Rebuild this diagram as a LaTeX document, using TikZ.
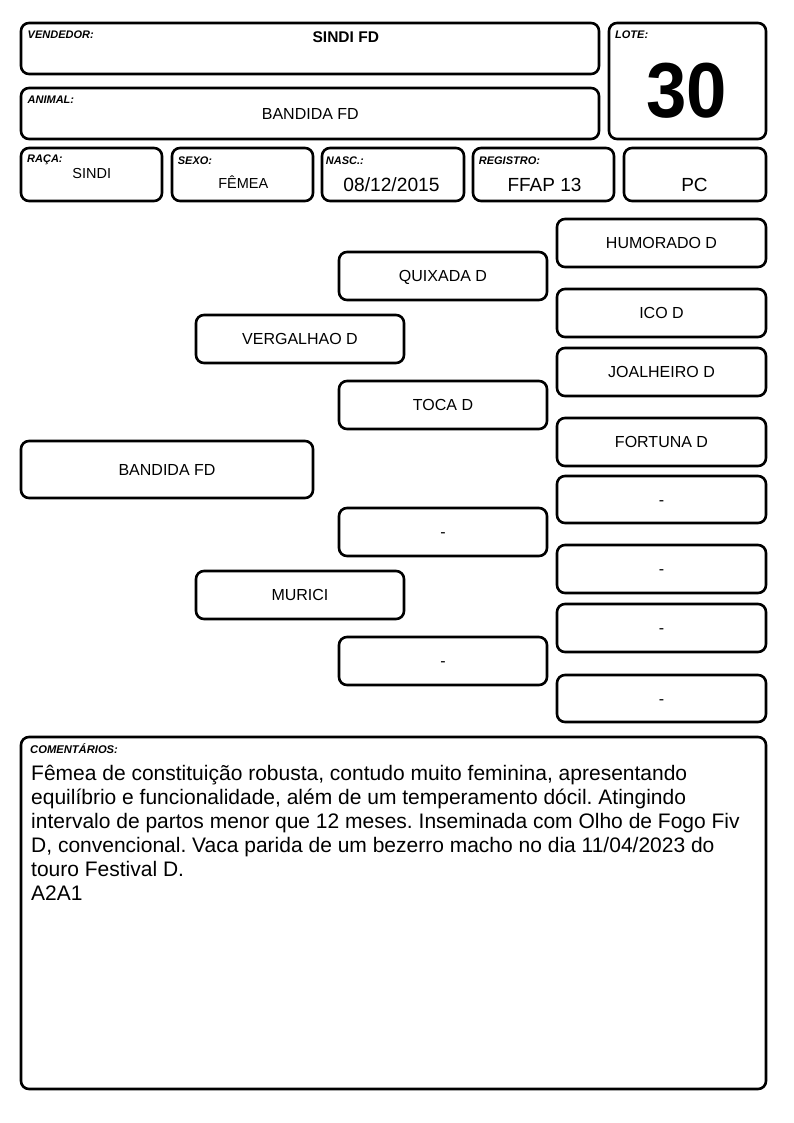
\documentclass[tikz,border=0pt]{standalone}
\usepackage{fontspec}
\setmainfont{Liberation Sans}
\frenchspacing
\begin{document}
\begin{tikzpicture}[x=1pt,y=-1pt]
\tikzset{
 boxst/.style={draw, line width=2.6pt, rounded corners=8pt, inner sep=0pt, fill=white,
   font=\fontsize{16}{19}\selectfont, text height=11.5pt, text depth=0pt},
 lbl/.style={anchor=base west, inner sep=0pt, font=\fontsize{11}{12}\selectfont\bfseries\itshape},
 val/.style={anchor=base, inner sep=0pt},
}
\useasboundingbox[fill=white] (0,0) rectangle (794,1123);
% header boxes
\node[boxst, minimum width=578pt, minimum height=51pt] (vend) at (310,48.5) {};
\node[boxst, minimum width=578pt, minimum height=51pt] (anim) at (310,113.5) {};
\node[boxst, minimum width=157pt, minimum height=116pt] (lote) at (687.5,81) {};
\node[boxst, minimum width=141pt, minimum height=53pt] (raca) at (91.5,174.5) {};
\node[boxst, minimum width=141pt, minimum height=53pt] (sexo) at (242.5,174.5) {};
\node[boxst, minimum width=142pt, minimum height=53pt] (nasc) at (393,174.5) {};
\node[boxst, minimum width=141pt, minimum height=53pt] (reg) at (543.5,174.5) {};
\node[boxst, minimum width=142pt, minimum height=53pt] (pc) at (695,174.5) {};
% labels
\node[lbl] (lvend) at (27.5,39) {VENDEDOR:};
\node[lbl] (lanim) at (27.5,103.3) {ANIMAL:};
\node[lbl] (llote) at (615,39) {LOTE:};
\node[lbl] (lraca) at (27,163) {RAÇA:};
\node[lbl] (lsexo) at (177.7,164.3) {SEXO:};
\node[lbl] (lnasc) at (325.7,164.3) {NASC.:};
\node[lbl] (lreg) at (478.7,165) {REGISTRO:};
% values
\node[val, font=\fontsize{15.5}{18}\selectfont\bfseries] (tvend) at (345.8,42.7) {SINDI FD};
\node[val, font=\fontsize{16}{19}\selectfont] (tanim) at (310.3,119.3) {BANDIDA FD};
\node[val, font=\fontsize{78}{80}\selectfont\bfseries] (tlote) at (686.7,118) {\scalebox{0.93}[1]{30}};
\node[val, font=\fontsize{14.5}{17}\selectfont] (traca) at (91.7,178.3) {SINDI};
\node[val, font=\fontsize{14.5}{17}\selectfont] (tsexo) at (243.3,189) {FÊMEA};
\node[val, font=\fontsize{19.2}{22}\selectfont] (tnasc) at (391.5,191.7) {08/12/2015};
\node[val, font=\fontsize{19}{22}\selectfont] (treg) at (544.5,191.7) {FFAP 13};
\node[val, font=\fontsize{19}{22}\selectfont] (tpc) at (694.5,191.7) {PC};
% pedigree
\node[boxst, minimum width=292pt, minimum height=57pt] (a) at (167,469.5) {BANDIDA FD};
\node[boxst, minimum width=208pt, minimum height=48pt] (s1) at (300,339) {VERGALHAO D};
\node[boxst, minimum width=208pt, minimum height=48pt] (s2) at (300,595) {MURICI};
\node[boxst, minimum width=208pt, minimum height=48pt] (m1) at (443,276) {QUIXADA D};
\node[boxst, minimum width=208pt, minimum height=48pt] (m2) at (443,405) {TOCA D};
\node[boxst, minimum width=208pt, minimum height=48pt] (m3) at (443,532) {-};
\node[boxst, minimum width=208pt, minimum height=48pt] (m4) at (443,661) {-};
\node[boxst, minimum width=209pt, minimum height=48pt] (r1) at (661.5,243) {HUMORADO D};
\node[boxst, minimum width=209pt, minimum height=48pt] (r2) at (661.5,313) {ICO D};
\node[boxst, minimum width=209pt, minimum height=48pt] (r3) at (661.5,372) {JOALHEIRO D};
\node[boxst, minimum width=209pt, minimum height=48pt] (r4) at (661.5,442) {FORTUNA D};
\node[boxst, minimum width=209pt, minimum height=47pt] (r5) at (661.5,499.5) {-};
\node[boxst, minimum width=209pt, minimum height=48pt] (r6) at (661.5,569) {-};
\node[boxst, minimum width=209pt, minimum height=48pt] (r7) at (661.5,628) {-};
\node[boxst, minimum width=209pt, minimum height=47pt] (r8) at (661.5,698.5) {-};
% comments
\node[boxst, minimum width=745pt, minimum height=352pt] (com) at (393.5,913) {};
\node[lbl, font=\fontsize{11.2}{12}\selectfont\bfseries\itshape] (lcom) at (30,753.3) {COMENTÁRIOS:};
\node[anchor=north west, inner sep=0pt, align=left, font=\fontsize{21}{24}\selectfont] (tcom) at (31,760)
 {\rule{0pt}{20pt}Fêmea de constituição robusta, contudo muito feminina, apresentando\\
  equilíbrio e funcionalidade, além de um temperamento dócil. Atingindo\\
  intervalo de partos menor que 12 meses. Inseminada com Olho de Fogo Fiv\\
  D, convencional. Vaca parida de um bezerro macho no dia 11/04/2023 do\\
  touro Festival D.\\
  A2A1};
\end{tikzpicture}
\end{document}
